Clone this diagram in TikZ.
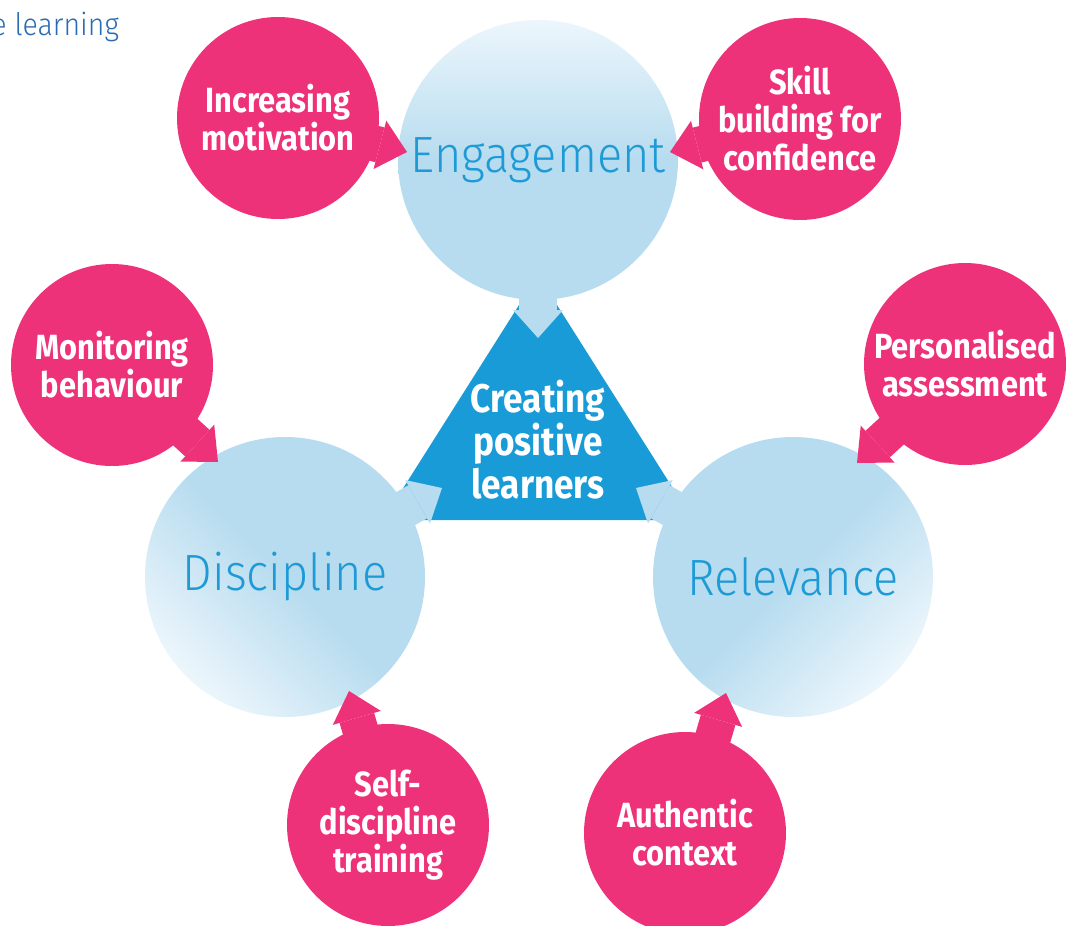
\documentclass[tikz,border=0pt]{standalone}
\usepackage{fontspec}
\setmainfont{Fira Sans}
\newfontfamily\dinbold{Fira Sans}[FakeStretch=0.88]
\IfFontExistsTF{Fira Sans Light}
  {\newfontfamily\dinlight{Fira Sans Light}[FakeStretch=0.92]}
  {\newfontfamily\dinlight{Fira Sans}[FakeStretch=0.92]}
\usetikzlibrary{arrows.meta,calc}
\definecolor{lpink}{RGB}{238,50,121}
\definecolor{lblue}{RGB}{183,220,239}
\definecolor{lpale}{RGB}{236,246,252}
\definecolor{ltri}{RGB}{24,155,215}
\definecolor{ltext}{RGB}{30,155,215}
\definecolor{lhead}{RGB}{42,108,178}
\tikzset{
  big/.style={
    circle, inner sep=0pt, minimum size=140pt,
    top color=lpale, bottom color=lblue, middle color=lblue,
    text=ltext, font=\dinlight\fontsize{25.5}{28}\selectfont
  },
  pcirc/.style={
    circle, inner sep=0pt, minimum size=101pt, fill=lpink,
    text=white, align=center, font=\dinbold\bfseries\fontsize{17.5}{19}\selectfont
  },
  core/.style={text=white, align=center, font=\dinbold\bfseries\fontsize{20}{21.5}\selectfont},
  barr/.style={draw=lblue, line width=19pt, shorten <=-6pt,
    -{Triangle[length=14pt,width=25pt,line width=0pt]}},
  parr/.style={draw=lpink, line width=18pt, shorten <=-6pt,
    -{Triangle[length=14pt,width=25pt,line width=0pt]}}
}
\begin{document}
\begin{tikzpicture}[x=0.5pt,y=0.5pt]
  \useasboundingbox (0,0) rectangle (1071,-926);
  \node[anchor=base west, inner sep=0pt, text=lhead, font=\dinlight\fontsize{15.5}{18}\selectfont] (head) at (-9,-35) {e learning};
  % centre
  \fill[ltri] (538,-275) -- (383,-520) -- (693,-520) -- cycle;
  \node[core] (core) at (538,-440) {Creating\\positive\\learners};
  % big circles
  \node[big] (eng) at (538,-160) {Engagement};
  \node[big, shading angle=135] (dis) at (285,-577) {Discipline};
  \node[big, shading angle=-135] (rel) at (793,-577) {Relevance};
  \coordinate (eng tip) at ($(eng)+(0,-178)$);
  \coordinate (dis tip) at ($(dis)+(157,89)$);
  \coordinate (rel tip) at ($(rel)+(-157,89)$);
  \draw[barr] (eng) -- (eng tip);
  \draw[barr] (dis) -- (dis tip);
  \draw[barr] (rel) -- (rel tip);
  % pink circles
  \node[pcirc] (inc) at (278,-118) {Increasing\\motivation};
  \node[pcirc] (skill) at (800,-119) {Skill\\building for\\confidence};
  \node[pcirc] (mon) at (112,-365) {Monitoring\\behaviour};
  \node[pcirc] (pers) at (965,-364) {Personalised\\assessment};
  \node[pcirc] (self) at (388,-825) {Self-\\discipline\\training};
  \node[pcirc] (auth) at (685,-833) {Authentic\\context};
  \coordinate (inc tip) at ($(inc)+(129,-34)$);
  \coordinate (skill tip) at ($(skill)+(-130,-33)$);
  \coordinate (mon tip) at ($(mon)+(106,-97)$);
  \coordinate (pers tip) at ($(pers)+(-108,-99)$);
  \coordinate (self tip) at ($(self)+(-39,134)$);
  \coordinate (auth tip) at ($(auth)+(41,140)$);
  \draw[parr] (inc) -- (inc tip);
  \draw[parr] (skill) -- (skill tip);
  \draw[parr] (mon) -- (mon tip);
  \draw[parr] (pers) -- (pers tip);
  \draw[parr] (self) -- (self tip);
  \draw[parr] (auth) -- (auth tip);
\end{tikzpicture}
\end{document}
